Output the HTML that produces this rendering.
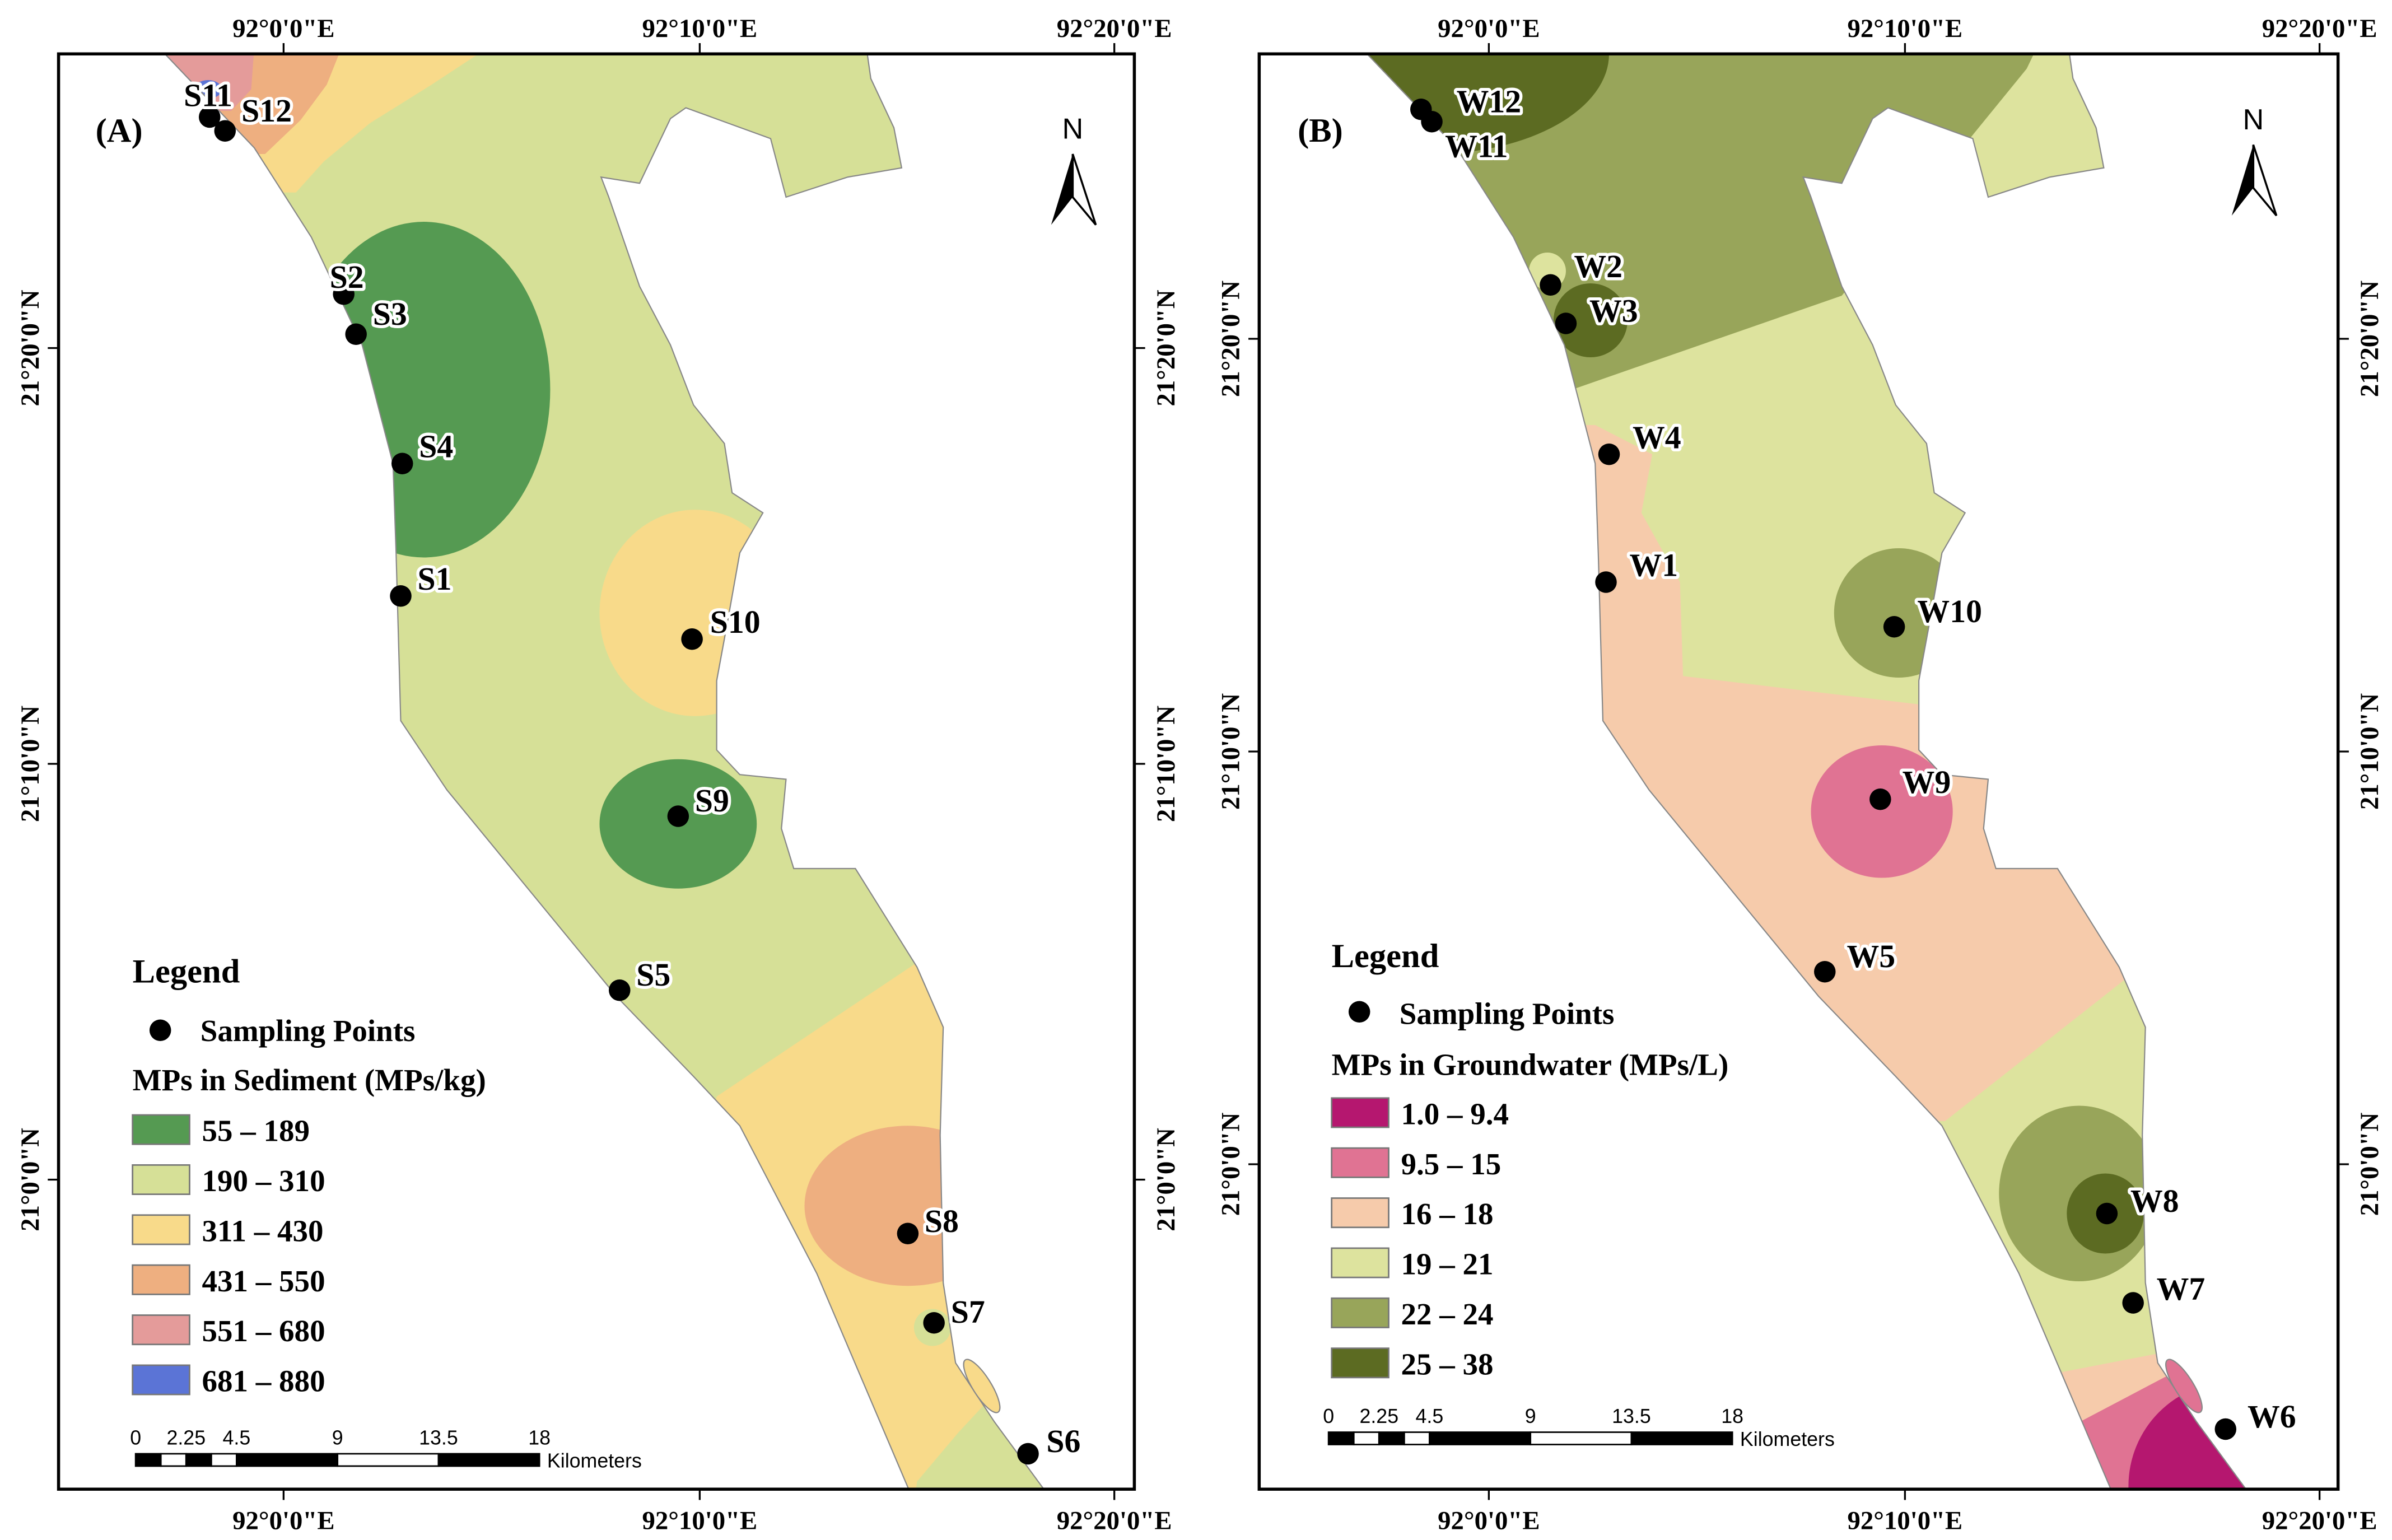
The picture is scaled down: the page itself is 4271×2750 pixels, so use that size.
<!DOCTYPE html>
<html><head><meta charset="utf-8">
<style>
html,body{margin:0;padding:0;background:#fff;}
svg{display:block;}
.t{font-family:"Liberation Serif",serif;font-weight:bold;fill:#000;}
.lbl{font-family:"Liberation Serif",serif;font-weight:bold;font-size:21px;fill:#000;stroke:#fff;stroke-width:4;paint-order:stroke;stroke-linejoin:round;text-anchor:middle;}
.tick{font-family:"Liberation Serif",serif;font-weight:bold;font-size:17px;fill:#000;}
.sc{font-family:"Liberation Sans",sans-serif;font-size:13px;fill:#000;}
</style></head>
<body>
<svg id="fig" xmlns="http://www.w3.org/2000/svg" width="4271" height="2750" viewBox="0 0 1552 1000" preserveAspectRatio="none">
<defs>
<clipPath id="land" clipPathUnits="userSpaceOnUse">
<polygon points="107,35 165,96 202,154 235,224 255,301 257,359 260,468 290,513 400,647 450,699 480,731 530,827 590,968 590,980 680,980 678,968 645,923 620,885 612,833 610,737 612,667 595,628 555,564 515,564 507,538 510,506 480,503 465,487 465,442 472,404 480,359 495,333 475,320 470,288 450,263 435,224 415,186 395,128 390,115 415,119 435,77 445,70 500,90 510,128 550,115 585,109 580,83 565,51 562,30 100,30"/>
</clipPath>
<clipPath id="frame" clipPathUnits="userSpaceOnUse"><rect x="38" y="35" width="698" height="932"/></clipPath>
</defs>

<!-- PANEL A -->
<g id="panelA">
 <g clip-path="url(#frame)">
  <g clip-path="url(#land)">
   <rect x="0" y="0" width="800" height="1000" fill="#d6e097"/>
   <polygon points="100,30 318,30 280,55 240,80 210,105 192,125 100,125" fill="#f8da8a"/>
   <polygon points="100,30 222,30 212,55 195,78 172,100 100,100" fill="#eeaf80"/>
   <polygon points="100,30 165,30 163,58 150,72 100,72" fill="#e49b9a"/>
   <ellipse cx="135" cy="58" rx="9" ry="6" fill="#5b74d6"/>
   <ellipse cx="275" cy="253" rx="82" ry="109" fill="#559a52"/>
   <ellipse cx="451" cy="398" rx="62" ry="67" fill="#f8da8a"/>
   <ellipse cx="440" cy="535" rx="51" ry="42" fill="#559a52"/>
   <polygon points="465,712 595,625 700,625 700,1000 400,1000" fill="#f8da8a"/>
   <ellipse cx="589" cy="783" rx="67" ry="52" fill="#eeaf80"/>
   <circle cx="605" cy="862" r="12" fill="#d6e097"/>
   <polygon points="590,1000 595,962 622,930 648,902 700,900 700,1000" fill="#d6e097"/>
  </g>
  <polygon points="107,35 165,96 202,154 235,224 255,301 257,359 260,468 290,513 400,647 450,699 480,731 530,827 590,968 590,980 680,980 678,968 645,923 620,885 612,833 610,737 612,667 595,628 555,564 515,564 507,538 510,506 480,503 465,487 465,442 472,404 480,359 495,333 475,320 470,288 450,263 435,224 415,186 395,128 390,115 415,119 435,77 445,70 500,90 510,128 550,115 585,109 580,83 565,51 562,30" fill="none" stroke="#888" stroke-width="0.8"/>
  <ellipse cx="637" cy="900" rx="6" ry="20" transform="rotate(-32 637 900)" fill="#f8da8a" stroke="#888" stroke-width="0.8"/>
 </g>
 <rect x="38" y="35" width="698" height="932" fill="none" stroke="#000" stroke-width="2"/>
 <g id="pointsA"></g>
 <text class="t" x="62" y="92" font-size="22">(A)</text>
 <g>
  <text x="696" y="90" font-family="Liberation Sans, sans-serif" font-size="19" text-anchor="middle">N</text>
  <polygon points="696,100 682,146 696,128" fill="#000"/>
  <polygon points="696,100 711,146 696,128" fill="#fff" stroke="#000" stroke-width="1.3"/>
 </g>
 <g>
  <text class="t" x="86" y="638" font-size="22">Legend</text>
  <circle cx="104" cy="669" r="7" fill="#000"/>
  <text class="t" x="130" y="676" font-size="20">Sampling Points</text>
  <text class="t" x="86" y="708" font-size="20">MPs in Sediment (MPs/kg)</text>
  <g id="legItemsA"></g>
 </g>
 <g id="scaleA"></g>
</g>

<!-- PANEL B -->
<g id="panelB" transform="translate(780,0)">
 <g clip-path="url(#frame)">
  <g clip-path="url(#land)">
   <rect x="0" y="0" width="800" height="1000" fill="#dde39e"/>
   <polygon points="0,0 600,0 542,36 415,192 240,253 0,253" fill="#98a55a"/>
   <polygon points="542,30 620,30 620,145 498,145 506,105" fill="#dde39e"/>
   <ellipse cx="149" cy="35" rx="115" ry="65" fill="#5c6b22"/>
   <circle cx="252" cy="208" r="24" fill="#5c6b22"/>
   <circle cx="224" cy="176" r="12" fill="#dde39e"/>
   <polygon points="0,276 255,276 292,295 285,333 310,378 312,439 470,458 700,458 700,620 600,635 482,728 0,728" fill="#f6cbab"/>
   <ellipse cx="452" cy="398" rx="42" ry="42" fill="#98a55a"/>
   <ellipse cx="441" cy="527" rx="46" ry="43" fill="#e07393"/>
   <ellipse cx="569" cy="775" rx="52" ry="57" fill="#98a55a"/>
   <ellipse cx="586" cy="788" rx="25" ry="26" fill="#5c6b22"/>
   <polygon points="400,894 542,894 625,878 700,878 700,1000 400,1000" fill="#f6cbab"/>
   <polygon points="400,923 570,923 625,894 700,894 700,1000 400,1000" fill="#e07393"/>
   <circle cx="669" cy="965" r="68" fill="#b5176f"/>
  </g>
  <polygon points="107,35 165,96 202,154 235,224 255,301 257,359 260,468 290,513 400,647 450,699 480,731 530,827 590,968 590,980 680,980 678,968 645,923 620,885 612,833 610,737 612,667 595,628 555,564 515,564 507,538 510,506 480,503 465,487 465,442 472,404 480,359 495,333 475,320 470,288 450,263 435,224 415,186 395,128 390,115 415,119 435,77 445,70 500,90 510,128 550,115 585,109 580,83 565,51 562,30" fill="none" stroke="#888" stroke-width="0.8"/>
  <ellipse cx="637" cy="900" rx="6" ry="20" transform="rotate(-32 637 900)" fill="#e07393" stroke="#888" stroke-width="0.8"/>
 </g>
 <rect x="37" y="35" width="700" height="932" fill="none" stroke="#000" stroke-width="2"/>
 <g id="pointsB"></g>
 <text class="t" x="62" y="92" font-size="22">(B)</text>
 <g>
  <text x="682" y="84" font-family="Liberation Sans, sans-serif" font-size="19" text-anchor="middle">N</text>
  <polygon points="682,94 668,140 682,122" fill="#000"/>
  <polygon points="682,94 697,140 682,122" fill="#fff" stroke="#000" stroke-width="1.3"/>
 </g>
 <g>
  <text class="t" x="84" y="628" font-size="22">Legend</text>
  <circle cx="102" cy="657" r="7" fill="#000"/>
  <text class="t" x="128" y="665" font-size="20">Sampling Points</text>
  <text class="t" x="84" y="698" font-size="20">MPs in Groundwater (MPs/L)</text>
  <g id="legItemsB"></g>
 </g>
 <g id="scaleB"></g>
</g>
<g id="axes"></g>
</svg>
<script>
var NS="http://www.w3.org/2000/svg";
// Sampling point data (panel-local map coordinates)
var sedNames=["S11","S12","S2","S3","S4","S1","S10","S9","S5","S8","S7","S6"];
var sedX=[136,146,223,231,261,260,449,440,402,589,606,667];
var sedY=[76,85,191,217,301,387,415,530,643,801,859,944];
var sedLX=[135,173,225,253,283,282,477,462,424,611,628,690];
var sedLY=[62,72,180,204,290,376,404,520,633,793,852,936];
var gwNames=["W12","W11","W2","W3","W4","W1","W10","W9","W5","W8","W7","W6"];
var gwX=[142,149,226,236,264,262,449,440,404,587,604,664];
var gwY=[71,79,185,210,295,378,407,519,631,788,846,928];
var gwLX=[186,178,257,267,295,293,485,470,434,618,635,694];
var gwLY=[66,95,173,202,284,367,397,508,621,780,837,920];
var sedClasses=["55 – 189","190 – 310","311 – 430","431 – 550","551 – 680","681 – 880"];
var sedColors=["#559a52","#d6e097","#f8da8a","#eeaf80","#e49b9a","#5b74d6"];
var gwClasses=["1.0 – 9.4","9.5 – 15","16 – 18","19 – 21","22 – 24","25 – 38"];
var gwColors=["#b5176f","#e07393","#f6cbab","#dde39e","#98a55a","#5c6b22"];
var scaleTicks=["0","2.25","4.5","9","13.5","18"];
var scaleKm=[0,2.25,4.5,9,13.5,18];
var lonLabels=["92°0'0\"E","92°10'0\"E","92°20'0\"E"];
var latLabels=["21°20'0\"N","21°10'0\"N","21°0'0\"N"];

function mk(tag,attrs,parent){var e=document.createElementNS(NS,tag);for(var k in attrs)e.setAttribute(k,attrs[k]);parent.appendChild(e);return e;}

function drawPoints(gid,names,xs,ys,lx,ly){
 var g=document.getElementById(gid);
 for(var i=0;i<names.length;i++){
  var c=mk("circle",{cx:xs[i],cy:ys[i],r:7,fill:"#000"},g);
  
  
  var t=mk("text",{x:lx[i],y:ly[i]+7,"class":"lbl"},g);
  t.textContent=names[i];
  
  
 }
}
drawPoints("pointsA",sedNames,sedX,sedY,sedLX,sedLY);
drawPoints("pointsB",gwNames,gwX,gwY,gwLX,gwLY);

function drawLegend(gid,labels,colors,x0,y0){
 var g=document.getElementById(gid);
 for(var i=0;i<labels.length;i++){
  var y=y0+i*32.5;
  var r=mk("rect",{x:x0,y:y,width:37,height:19,fill:colors[i],stroke:"#777","stroke-width":1},g);
  
  
  var t=mk("text",{x:x0+45,y:y+17,"class":"t","font-size":20},g);
  t.textContent=labels[i];
  
  
 }
}
drawLegend("legItemsA",sedClasses,sedColors,86,724);
drawLegend("legItemsB",gwClasses,gwColors,84,713);

function drawScale(gid,x0,y0){
 var g=document.getElementById(gid);
 var pk=262/18;
 var segs=[0,1.125,2.25,3.375,4.5,9,13.5,18];
 for(var i=0;i<segs.length-1;i++){
  var r=mk("rect",{x:x0+segs[i]*pk,y:y0,width:(segs[i+1]-segs[i])*pk,height:8,fill:(i%2==0?"#000":"#fff"),stroke:"#000","stroke-width":1},g);
  
  
 }
 for(var j=0;j<scaleTicks.length;j++){
  var t=mk("text",{x:x0+scaleKm[j]*pk,y:y0-6,"class":"sc","text-anchor":"middle"},g);
  t.textContent=scaleTicks[j];
  
  
 }
 var k=mk("text",{x:x0+262+5,y:y0+9,"class":"sc"},g);
 k.textContent="Kilometers";
 
 
}
drawScale("scaleA",88,944);
drawScale("scaleB",82,930);

function drawAxes(fl,fr,ft,fb,lonX,latY,panel){
 var g=document.getElementById("axes");
 for(var i=0;i<lonLabels.length;i++){
  var x=lonX[i];
  mk("line",{x1:x,y1:ft-7,x2:x,y2:ft,stroke:"#000","stroke-width":1.2},g);
  mk("line",{x1:x,y1:fb,x2:x,y2:fb+7,stroke:"#000","stroke-width":1.2},g);
  var t1=mk("text",{x:x,y:ft-11,"class":"tick","text-anchor":"middle"},g);t1.textContent=lonLabels[i];
  
  
  var t2=mk("text",{x:x,y:fb+26,"class":"tick","text-anchor":"middle"},g);t2.textContent=lonLabels[i];
  
  
 }
 for(var j=0;j<latLabels.length;j++){
  var y=latY[j];
  mk("line",{x1:fl-7,y1:y,x2:fl,y2:y,stroke:"#000","stroke-width":1.2},g);
  mk("line",{x1:fr,y1:y,x2:fr+7,y2:y,stroke:"#000","stroke-width":1.2},g);
  var a=mk("text",{x:0,y:0,"class":"tick","text-anchor":"middle",transform:"translate("+(fl-13)+","+y+") rotate(-90)"},g);a.textContent=latLabels[j];
  
  
  var b=mk("text",{x:0,y:0,"class":"tick","text-anchor":"middle",transform:"translate("+(fr+26)+","+y+") rotate(-90)"},g);b.textContent=latLabels[j];
  
  
 }
}
drawAxes(38,736,35,967,[184,454,723],[226,496,766],"a");
drawAxes(817,1517,35,967,[966,1236,1505],[220,488,756],"b");
</script>
</body></html>
